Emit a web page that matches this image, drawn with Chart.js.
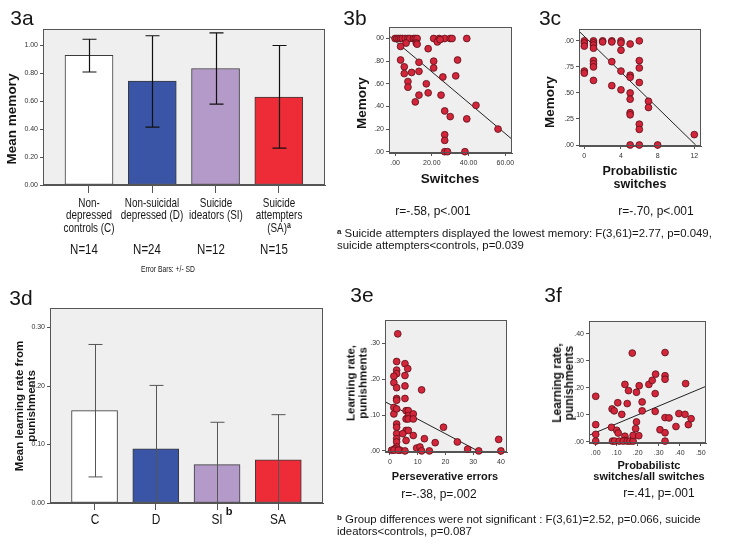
<!DOCTYPE html>
<html>
<head>
<meta charset="utf-8">
<script src="https://cdn.jsdelivr.net/npm/chart.js@4.4.1/dist/chart.umd.min.js"></script>
<style>
  body { margin: 0; width: 729px; height: 554px; background: #fff; position: relative; overflow: hidden;
         font-family: 'Liberation Sans', Arial, sans-serif; color: #151515; }
  canvas { position: absolute; }
  .t { position: absolute; white-space: nowrap; line-height: 1; }
  .b { font-weight: bold; }
  sup { font-size: 70%; font-weight: bold; vertical-align: 0.45em; line-height: 0; }
</style>
</head>
<body>
<script>
// ---- 3a: memory by group
var barX = [0, 1, 2, 3];
var groupLabels = ['Non-<br>depressed<br>controls (C)', 'Non-suicidal<br>depressed (D)',
                   'Suicide<br>ideators (SI)', 'Suicide<br>attempters<br>(SA)<sup>a</sup>'];
var groupN = ['N=14', 'N=24', 'N=12', 'N=15'];
var groupColors = ['#ffffff', '#3a55a6', '#b49ac9', '#ee2c38'];
var memMean = [0.93, 0.745, 0.835, 0.63];
var memLo = [0.81, 0.415, 0.58, 0.265];
var memHi = [1.045, 1.07, 1.09, 1.0];
var memTicks = [0, 0.2, 0.4, 0.6, 0.8, 1.0];
var memTickLabels = ['0.00', '0.20', '0.40', '0.60', '0.80', '1.00'];

// ---- 3b: memory vs switches
var swX = [0, 1, 2, 3, 4, 5.5, 7, 8, 10, 11, 12, 21, 24, 27, 30, 31, 39,
           6, 3, 11.5, 12, 23, 24.5, 3, 5, 5, 7, 7, 9, 11, 13, 13, 13, 18, 17, 18, 21, 21,
           26, 25, 27, 30, 27, 27, 27, 28.5, 34, 33, 39, 38, 44, 56];
var swY = [1, 1, 1, 1, 1, 1, 1, 1, 1, 1, 1, 1, 1, 1, 1, 1, 1,
           0.96, 0.93, 0.96, 0.95, 0.97, 0.99, 0.81, 0.75, 0.69, 0.62, 0.57, 0.70, 0.44, 0.79, 0.71, 0.50, 0.91, 0.60, 0.52, 0.80, 0.74,
           0.66, 0.50, 0.36, 0.31, 0.15, 0.10, 0, 0, 0.81, 0.67, 0.29, 0, 0.41, 0.20];
var swFit = [{x: -3.3, y: 1.024}, {x: 63.6, y: 0.11}];
var swXTicks = [0, 20, 40, 60], swXLabels = ['.00', '20.00', '40.00', '60.00'];
var swYTicks = [0, 0.2, 0.4, 0.6, 0.8, 1], swYLabels = ['.00', '.20', '.40', '.60', '.80', '00'];

// ---- 3c: memory vs probabilistic switches
var psX = [0, 0, 0, 0, 0, 1, 1, 1, 1, 1, 1, 1, 1, 2, 2, 3, 3, 3, 3, 4, 4, 4, 4, 4,
           5, 5, 5, 5, 5, 5, 5, 5, 6, 6, 6, 6, 6, 6, 6, 7, 7, 8, 12];
var psY = [1, 0.98, 0.95, 0.71, 0.69, 1, 0.98, 0.96, 0.93, 0.81, 0.78, 0.75, 0.62, 1, 0.99, 1, 0.99, 0.80, 0.57,
           1, 0.98, 0.91, 0.71, 0.53, 0.97, 0.67, 0.65, 0.50, 0.44, 0.31, 0.29, 0,
           1, 0.81, 0.74, 0.60, 0.20, 0.15, 0, 0.42, 0.36, 0, 0.10];
var psFit = [{x: -0.58, y: 1.093}, {x: 12.15, y: 0}];
var psXTicks = [0, 4, 8, 12], psXLabels = ['0', '4', '8', '12'];
var psYTicks = [0, 0.25, 0.5, 0.75, 1], psYLabels = ['.00', '.25', '.50', '.75', '.00'];

// ---- 3d: learning rate from punishments by group
var groupShort = ['C', 'D', 'SI', 'SA'];
var punMean = [0.158, 0.0926, 0.0657, 0.0737];
var punLo = [0.0446, -0.016, -0.007, -0.004];
var punHi = [0.271, 0.201, 0.138, 0.151];
var punTicks = [0, 0.1, 0.2, 0.3], punTickLabels = ['0.00', '0.10', '0.20', '0.30'];

// ---- 3e: learning rate vs perseverative errors
var peX = [2.8, 2.4, 2.4, 2.4, 1.4, 1.4, 2.4, 2.4, 2.4, 1.4, 1.4, 2.4, 2.4, 2.4, 2.4, 2.4, 2.4, 2.4, 1.8, 0.6, 3.6, 1.4, 3,
           5.4, 5.4, 6.4, 5.4, 5.4, 5.8, 6.6, 6.6, 5.8, 6.6, 8.4, 8.4, 5.8, 6.6, 4.6, 8.4, 5.8, 5.4,
           11.4, 9.6, 10.8, 11.4, 12.4, 14.2, 16.3, 19.3, 24.3, 28, 32, 39.2, 40];
var peY = [0.326, 0.249, 0.225, 0.215, 0.208, 0.19, 0.176, 0.146, 0.141, 0.121, 0.103, 0.117, 0.075, 0.066, 0.048, 0.034, 0.025, 0.011, 0.006, 0.002, 0.002, 0.002, 0.002,
           0.243, 0.21, 0.229, 0.181, 0.146, 0.112, 0.112, 0.098, 0.089, 0.089, 0.103, 0.089, 0.057, 0.057, 0.048, 0.043, 0.029, 0,
           0.170, 0.008, 0.011, 0, 0.034, 0, 0.023, 0.066, 0.025, 0.005, 0, 0.032, 0];
var peFit = [{x: -1.8, y: 0.137}, {x: 31.7, y: 0}];
var peXTicks = [0, 10, 20, 30, 40], peXLabels = ['0', '10', '20', '30', '40'];
var peYTicks = [0, 0.1, 0.2, 0.3], peYLabels = ['.00', '.10', '.20', '.30'];

// ---- 3f: learning rate vs probabilistic/all switches
var prX = [0, 0, 0, 0, 0.075, 0.078, 0.088, 0.1, 0.107, 0.105, 0.124, 0.139, 0.15, 0.156, 0.139, 0.139,
           0.08, 0.09, 0.112, 0.131, 0.15, 0.163, 0.178,
           0.174, 0.194, 0.207, 0.194, 0.19, 0.178, 0.205, 0.221, 0.221, 0.253, 0.269, 0.285, 0.283, 0.283, 0.306,
           0.33, 0.33, 0.33, 0.33, 0.349, 0.33, 0.33, 0.382, 0.396, 0.425, 0.428, 0.441, 0.454];
var prY = [0.168, 0.063, 0.027, 0.002, 0.053, 0.121, 0.114, 0.042, 0.032, 0.144, 0.101, 0.212, 0.141, 0.189, 0.02, 0.005,
           0.002, 0.002, 0.002, 0.002, 0.002, 0.002, 0.002,
           0.328, 0.183, 0.207, 0.073, 0.048, 0.023, 0.022, 0.147, 0.114, 0.212, 0.227, 0.25, 0.178, 0.112, 0.044,
           0.33, 0.244, 0.231, 0.089, 0.088, 0.033, 0.002, 0.056, 0.104, 0.101, 0.215, 0.063, 0.085];
var prFit = [{x: -0.032, y: 0.0235}, {x: 0.525, y: 0.205}];
var prXTicks = [0, 0.1, 0.2, 0.3, 0.4, 0.5], prXLabels = ['.00', '.10', '.20', '.30', '.40', '.50'];
var prYTicks = [0, 0.1, 0.2, 0.3, 0.4], prYLabels = ['.00', '.10', '.20', '.30', '.40'];

// ---------------------------------------------------------------
var tickFont = {family: "'Liberation Sans', Arial, sans-serif", size: 7};

// gray panel + frame like SPSS output
var framePlugin = {
  id: 'frame',
  beforeDatasetsDraw: function (chart) {
    var a = chart.chartArea, ctx = chart.ctx;
    ctx.save();
    ctx.fillStyle = '#efefef';
    ctx.fillRect(a.left, a.top, a.right - a.left, a.bottom - a.top);
    ctx.restore();
  },
  afterDraw: function (chart) {
    var a = chart.chartArea, ctx = chart.ctx;
    ctx.save();
    ctx.strokeStyle = '#555';
    ctx.lineWidth = 1;
    ctx.strokeRect(Math.round(a.left) + 0.5, Math.round(a.top) + 0.5,
                   Math.round(a.right - a.left) - 1, Math.round(a.bottom - a.top) - 1);
    ctx.restore();
  }
};

// +/- SD error bars drawn through the chart's own scales
var errPlugin = {
  id: 'errbars',
  afterDatasetsDraw: function (chart, args, opts) {
    if (!opts.lo) return;
    var xs = chart.scales.x, ys = chart.scales.y, a = chart.chartArea, ctx = chart.ctx;
    ctx.save();
    ctx.strokeStyle = opts.color;
    ctx.lineWidth = opts.width;
    opts.x.forEach(function (xv, i) {
      var px = Math.round(xs.getPixelForValue(xv)) + 0.5;
      var top = ys.getPixelForValue(opts.hi[i]);
      var bot = Math.min(ys.getPixelForValue(opts.lo[i]), a.bottom);
      ctx.beginPath();
      ctx.moveTo(px, top); ctx.lineTo(px, bot);
      ctx.moveTo(px - opts.cap, top); ctx.lineTo(px + opts.cap, top);
      if (ys.getPixelForValue(opts.lo[i]) < a.bottom) {
        ctx.moveTo(px - opts.cap, bot); ctx.lineTo(px + opts.cap, bot);
      }
      ctx.stroke();
    });
    ctx.restore();
  }
};
Chart.register(framePlugin, errPlugin);

function axis(min, max, ticks, labels, tl, pad) {
  return {
    type: 'linear', min: min, max: max, offset: false,
    afterBuildTicks: function (s) { s.ticks = ticks.map(function (v) { return {value: v}; }); },
    ticks: {autoSkip: false, maxRotation: 0, minRotation: 0, padding: pad, color: '#333',
            font: tickFont, display: !!labels,
            callback: function (v, i) { return labels ? labels[i] : ''; }},
    grid: {display: true, drawOnChartArea: false, drawTicks: true, tickLength: tl, color: '#555', offset: false},
    border: {display: true, color: '#555'}
  };
}

function makeChart(plot, yW, xH, cfg) {
  var padT = 6, padR = 14;
  var c = document.createElement('canvas');
  var w = plot[2] - plot[0] + yW + padR, h = plot[3] - plot[1] + padT + xH;
  c.width = w; c.height = h;
  c.style.left = (plot[0] - yW) + 'px';
  c.style.top = (plot[1] - padT) + 'px';
  document.body.appendChild(c);
  cfg.options.responsive = false;
  cfg.options.animation = false;
  cfg.options.layout = {padding: {top: padT, right: padR, left: 0, bottom: 0}};
  cfg.options.scales.x.afterFit = function (s) { s.height = xH; };
  cfg.options.scales.y.afterFit = function (s) { s.width = yW; };
  cfg.options.plugins = Object.assign({legend: {display: false}, tooltip: {enabled: false}}, cfg.options.plugins);
  var chart = new Chart(c, cfg);
  chart.pageLeft = plot[0] - yW;
  return chart;
}

function pts(xs, ys) { return xs.map(function (x, i) { return {x: x, y: ys[i]}; }); }

function scatter(plot, yW, xH, xs, ys, fit, xr, yr, xt, xl, yt, yl) {
  return makeChart(plot, yW, xH, {
    type: 'scatter',
    data: {datasets: [
      {data: pts(xs, ys), pointRadius: 3.4, backgroundColor: '#d3263a', borderColor: '#5b0e16', borderWidth: 0.8},
      {data: fit, showLine: true, pointRadius: 0, borderColor: '#222', borderWidth: 1, fill: false}
    ]},
    options: {
      clip: false,
      scales: {
        x: axis(xr[0], xr[1], xt, xl, 3, 3),
        y: axis(yr[0], yr[1], yt, yl, 3, 2)
      }
    }
  });
}

function bars(plot, yW, xH, means, lo, hi, yMax, yt, yl, thick, errColor, errWidth, xTl) {
  return makeChart(plot, yW, xH, {
    type: 'bar',
    data: {datasets: [{
      data: pts(barX, means), backgroundColor: groupColors, borderColor: '#3a3a3a', borderWidth: 1,
      barThickness: thick, borderSkipped: false
    }]},
    options: {
      plugins: {errbars: {x: barX, lo: lo, hi: hi, color: errColor, width: errWidth, cap: 7}},
      scales: {
        x: axis(-0.727, 3.73, barX, null, xTl, 3),
        y: axis(0, yMax, yt, yl, 3, 2)
      }
    }
  });
}

// ---- text helper (condensed where the original uses a narrow face)
function txt(html, x, y, size, opt) {
  opt = opt || {};
  var d = document.createElement('div');
  d.className = 't' + (opt.bold ? ' b' : '');
  d.innerHTML = html;
  d.style.fontSize = size + 'px';
  if (opt.lh) d.style.lineHeight = opt.lh + 'px';
  d.style.left = x + 'px';
  d.style.top = y + 'px';
  var sx = opt.sx ? ' scaleX(' + opt.sx + ')' : '';
  if (opt.mode === 'left') { d.style.transform = 'translate(0,-50%)' + sx; d.style.transformOrigin = 'left center'; }
  else if (opt.mode === 'rot') { d.style.transform = 'translate(-50%,-50%) rotate(-90deg)'; d.style.textAlign = 'center'; }
  else if (opt.mode === 'top') { d.style.transform = 'translate(-50%,0)' + sx; d.style.textAlign = 'center'; }
  else { d.style.transform = 'translate(-50%,-50%)' + sx; d.style.textAlign = 'center'; }
  document.body.appendChild(d);
  return d;
}

var chA = bars([43, 29, 325, 185], 40, 70, memMean, memLo, memHi, 1.117, memTicks, memTickLabels,
               48, '#111', 1.2, 8);
scatter([389, 27, 512, 153], 30, 20, swX, swY, swFit, [-3.3, 63.6], [-0.0115, 1.1],
        swXTicks, swXLabels, swYTicks, swYLabels);
scatter([579, 29, 701, 146], 30, 20, psX, psY, psFit, [-0.58, 12.73], [-0.0096, 1.112],
        psXTicks, psXLabels, psYTicks, psYLabels);
var chD = bars([50, 308, 323, 503], 40, 30, punMean, punLo, punHi, 0.333, punTicks, punTickLabels,
               46, '#555', 1, 7);
scatter([385, 320, 507, 452], 30, 20, peX, peY, peFit, [-1.8, 42.2], [-0.003, 0.364],
        peXTicks, peXLabels, peYTicks, peYLabels);
scatter([589, 321, 706, 443], 30, 20, prX, prY, prFit, [-0.032, 0.525], [-0.005, 0.446],
        prXTicks, prXLabels, prYTicks, prYLabels);

// category labels placed at the bar positions of each chart's x scale
barX.forEach(function (v, i) {
  var pa = chA.pageLeft + chA.scales.x.getPixelForValue(v);
  txt(groupLabels[i], pa, 196.5, 13, {lh: 12.5, sx: 0.76, mode: 'top'});
  txt(groupN[i], pa - 5, 249, 14, {sx: 0.82});
  var pd = chD.pageLeft + chD.scales.x.getPixelForValue(v);
  txt(groupShort[i], pd, 519, 14, {sx: 0.85});
});

txt('3a', 22, 17, 21); txt('3b', 355, 17, 21); txt('3c', 550, 17, 21);
txt('3d', 21, 297, 21); txt('3e', 362, 294, 21); txt('3f', 553, 294, 21);

txt('Mean memory', 12, 119, 13.5, {bold: 1, mode: 'rot'});
txt('Memory', 362, 103, 13.5, {bold: 1, mode: 'rot'});
txt('Switches', 450, 179, 13.5, {bold: 1});
txt('Memory', 550, 102, 13.5, {bold: 1, mode: 'rot'});
txt('Probabilistic<br>switches', 640, 177, 12.5, {bold: 1});
txt('Mean learning rate from<br>punishments', 25, 406, 11.5, {bold: 1, mode: 'rot'});
txt('Learning rate,<br>punishments', 357, 383, 11.5, {bold: 1, mode: 'rot'});
txt('Perseverative errors', 445, 476, 11, {bold: 1});
txt('Learning rate,<br>punishments', 563, 383, 12, {bold: 1, mode: 'rot'});
txt('Probabilistc<br>switches/all switches', 649, 471, 11, {bold: 1});

txt('Error Bars: +/- SD', 168, 269, 9, {sx: 0.75});
txt('b', 229, 511, 11, {bold: 1});

txt('r=-.58, p&lt;.001', 433, 211, 12);
txt('r=-.70, p&lt;.001', 656, 211, 12);
txt('r=-.38, p=.002', 439, 494, 12);
txt('r=.41, p=.001', 659, 493, 12);

txt('<sup>a</sup> Suicide attempters displayed the lowest memory: F(3,61)=2.77, p=0.049,', 337, 234, 11.4, {mode: 'left'});
txt('suicide attempters&lt;controls, p=0.039', 337, 246, 11.4, {mode: 'left'});
txt('<sup>b</sup> Group differences were not significant : F(3,61)=2.52, p=0.066, suicide', 337, 520, 11.4, {mode: 'left'});
txt('ideators&lt;controls, p=0.087', 337, 532, 11.4, {mode: 'left'});
</script>
</body>
</html>
